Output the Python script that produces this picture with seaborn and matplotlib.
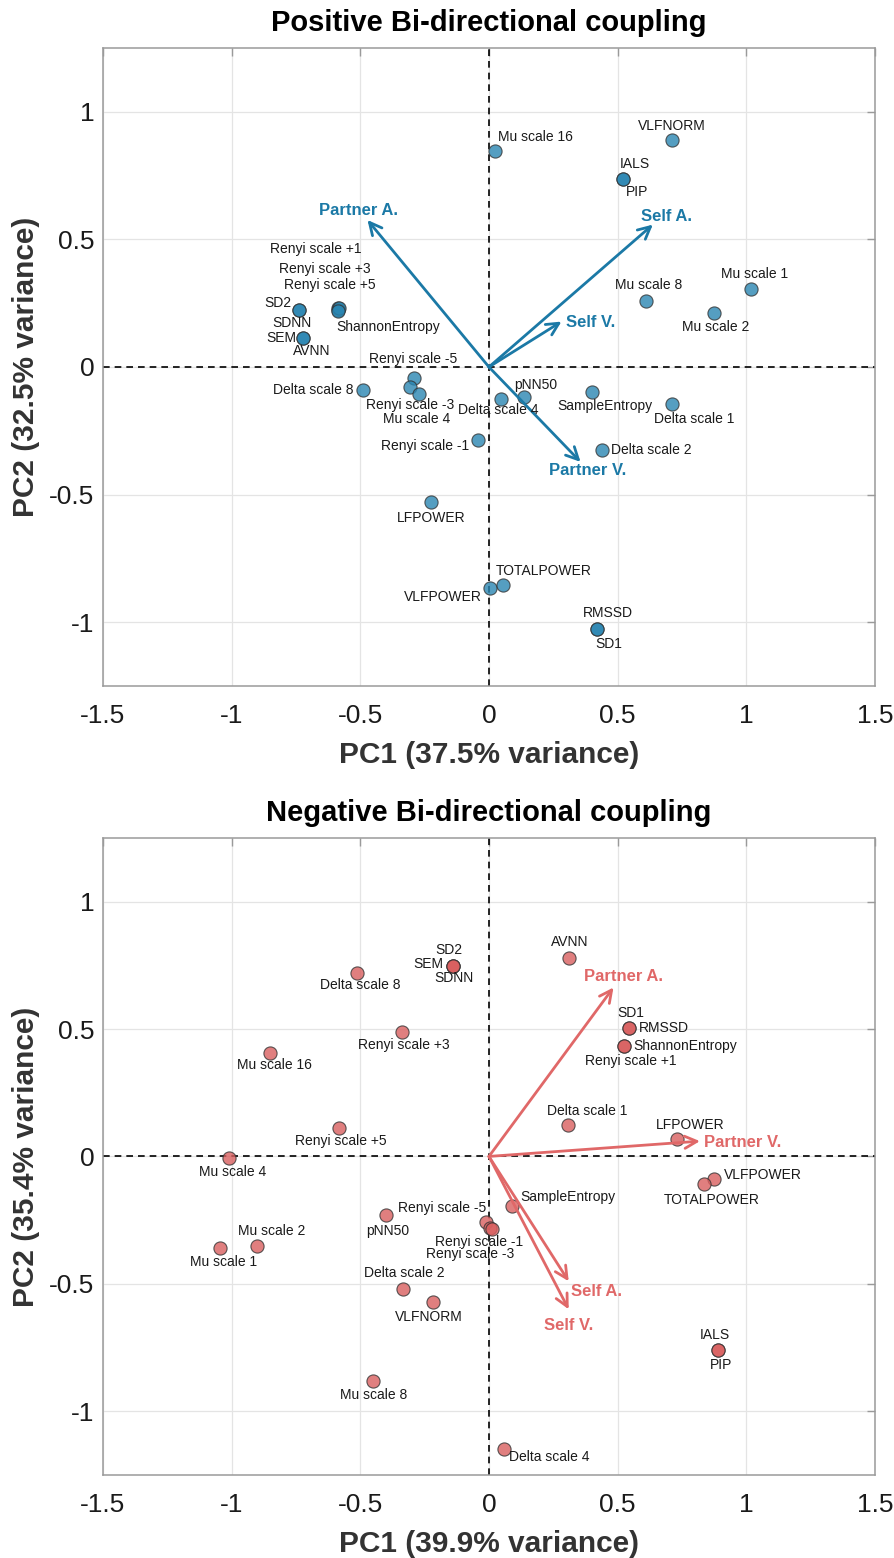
import matplotlib
matplotlib.use("Agg")
import matplotlib.pyplot as plt
from matplotlib.ticker import FuncFormatter
import pandas as pd
import seaborn as sns

# ---- positive bi-directional coupling (top) ----
pos_names = ["Mu scale 16", "VLFNORM", "IALS", "PIP", "Mu scale 8", "Mu scale 1", "Mu scale 2",
             "SD2", "SDNN", "Renyi scale +1", "Renyi scale +3", "Renyi scale +5", "ShannonEntropy",
             "SEM", "AVNN", "Renyi scale -5", "Renyi scale -3", "Mu scale 4", "Delta scale 8",
             "Renyi scale -1", "Delta scale 4", "pNN50", "SampleEntropy", "Delta scale 1",
             "Delta scale 2", "LFPOWER", "VLFPOWER", "TOTALPOWER", "RMSSD", "SD1"]
pos_pc1 = [0.025, 0.71, 0.52, 0.52, 0.61, 1.02, 0.875, -0.74, -0.74, -0.585, -0.585, -0.582,
           -0.587, -0.722, -0.722, -0.291, -0.305, -0.27, -0.488, -0.042, 0.047, 0.135, 0.401,
           0.71, 0.438, -0.224, 0.006, 0.053, 0.418, 0.418]
pos_pc2 = [0.848, 0.89, 0.735, 0.735, 0.26, 0.305, 0.21, 0.222, 0.222, 0.23, 0.225, 0.233,
           0.22, 0.113, 0.113, -0.043, -0.078, -0.105, -0.089, -0.287, -0.125, -0.118, -0.098,
           -0.144, -0.324, -0.53, -0.865, -0.855, -1.026, -1.026]
pos_vec_names = ["Partner A.", "Self A.", "Self V.", "Partner V."]
pos_vec_x = [-0.472, 0.637, 0.282, 0.356]
pos_vec_y = [0.576, 0.558, 0.178, -0.372]

# ---- negative bi-directional coupling (bottom) ----
neg_names = ["AVNN", "SD2", "SEM", "SDNN", "Delta scale 8", "Renyi scale +3", "Mu scale 16",
             "SD1", "RMSSD", "ShannonEntropy", "Renyi scale +1", "Delta scale 1", "LFPOWER",
             "Renyi scale +5", "Mu scale 4", "pNN50", "Renyi scale -5", "Renyi scale -1",
             "Renyi scale -3", "SampleEntropy", "Mu scale 2", "Mu scale 1", "Delta scale 2",
             "VLFNORM", "Mu scale 8", "Delta scale 4", "VLFPOWER", "TOTALPOWER", "IALS", "PIP"]
neg_pc1 = [0.312, -0.139, -0.139, -0.139, -0.512, -0.337, -0.849, 0.543, 0.543, 0.523, 0.523,
           0.307, 0.73, -0.583, -1.011, -0.40, -0.011, 0.005, 0.012, 0.088, -0.90, -1.047,
           -0.334, -0.217, -0.45, 0.057, 0.875, 0.835, 0.89, 0.89]
neg_pc2 = [0.78, 0.748, 0.748, 0.748, 0.721, 0.49, 0.407, 0.504, 0.504, 0.434, 0.434, 0.122,
           0.07, 0.112, -0.005, -0.231, -0.256, -0.28, -0.286, -0.193, -0.353, -0.359, -0.521,
           -0.572, -0.88, -1.148, -0.09, -0.11, -0.76, -0.76]
neg_vec_names = ["Partner A.", "Partner V.", "Self A.", "Self V."]
neg_vec_x = [0.484, 0.82, 0.31, 0.31]
neg_vec_y = [0.663, 0.06, -0.49, -0.60]

# label placement (offset points, alignment)
pos_lab = [(2, 10, "left"), (0, 10, "center"), (9, 11, "center"), (10, -9, "center"),
           (2, 11.5, "center"), (2, 11, "center"), (1, -10, "center"), (-5, 5, "right"),
           (-5, -9, "center"), (-16.5, 42.5, "center"), (-9.5, 29.5, "center"), (-7, 16, "center"),
           (-1, -11.5, "left"), (-5, 0, "right"), (6, -9.5, "center"), (-1, 13.5, "center"),
           (0, -13, "center"), (-2, -18, "center"), (-7, 0, "right"), (-6.5, -4, "right"),
           (-2, -8, "center"), (9, 9, "center"), (9, -10, "center"), (16, -11, "center"),
           (7, 0, "left"), (0, -11.5, "center"), (-6, -7, "right"), (-5, 10, "left"),
           (8, 11.5, "center"), (9, -11, "center")]
neg_lab = [(0, 11.5, "center"), (-3, 11.5, "center"), (-7, 1, "right"), (0.5, -9, "center"),
           (2, -8.5, "center"), (1, -10, "center"), (3, -9, "center"), (1.5, 11, "center"),
           (7, 0, "left"), (7, 0, "left"), (5, -11, "center"), (14, 10, "center"),
           (10, 10, "center"), (1.5, -9.5, "center"), (3, -10, "center"), (1, -11.5, "center"),
           (0, 10, "right"), (-8, -10, "center"), (-16, -17.5, "center"), (6.5, 6, "left"),
           (10.5, 11, "center"), (3, -10, "center"), (1, 12, "center"), (-3, -11, "center"),
           (0, -10, "center"), (4, -6, "left"), (7, 3, "left"), (6, -11, "center"),
           (-2, 11, "center"), (2, -11, "center")]
pos_vec_lab = [(-6.5, 7, "center"), (9.5, 6, "center"), (3.5, -1, "left"), (5, -6.5, "center")]
neg_vec_lab = [(7, 8, "center"), (3, -1, "left"), (2, -7, "left"), (0, -12, "center")]

sns.set_theme(style="white")
plt.rcParams["font.family"] = ["Liberation Sans", "DejaVu Sans"]
plt.rcParams["axes.unicode_minus"] = False


def draw_panel(ax, names, pc1, pc2, labs, vnames, vx, vy, vlabs, face, acol, title, xlab, ylab):
    df = pd.DataFrame({"feature": names, "pc1": pc1, "pc2": pc2})
    ax.axhline(0, color="black", lw=1.2, ls=(0, (4, 3)), zorder=2)
    ax.axvline(0, color="black", lw=1.2, ls=(0, (4, 3)), zorder=2)
    sns.scatterplot(data=df, x="pc1", y="pc2", ax=ax, color=face, s=90, alpha=0.8,
                    edgecolor="#333333", linewidth=0.8, zorder=4, legend=False)
    for name, x, y, (dx, dy, ha) in zip(names, pc1, pc2, labs):
        ax.annotate(name, (x, y), xytext=(dx, dy), textcoords="offset points",
                    ha=ha, va="center", fontsize=10, color="#1a1a1a", zorder=6)
    for name, x, y, (dx, dy, ha) in zip(vnames, vx, vy, vlabs):
        ax.annotate("", xy=(x, y), xytext=(0, 0),
                    arrowprops=dict(arrowstyle="->", color=acol, lw=2,
                                    mutation_scale=22, shrinkA=0, shrinkB=0), zorder=5)
        ax.annotate(name, (x, y), xytext=(dx, dy), textcoords="offset points", ha=ha,
                    va="center", fontsize=12, fontweight="bold", color=acol, zorder=6)
    ax.set_xlim(-1.5, 1.5)
    ax.set_ylim(-1.25, 1.25)
    ax.set_xticks([-1.5, -1, -0.5, 0, 0.5, 1, 1.5])
    ax.set_yticks([-1, -0.5, 0, 0.5, 1])
    fmt = FuncFormatter(lambda v, p: f"{v:g}")
    ax.xaxis.set_major_formatter(fmt)
    ax.yaxis.set_major_formatter(fmt)
    ax.grid(True, color="#e4e4e4", lw=0.9, zorder=0)
    ax.set_axisbelow(True)
    ax.tick_params(axis="both", direction="in", length=6, width=1, color="#9a9a9a",
                   top=True, right=True, labelsize=19, labelcolor="#1a1a1a")
    ax.tick_params(axis="x", pad=13)
    ax.tick_params(axis="y", pad=6)
    for sp in ax.spines.values():
        sp.set_color("#9a9a9a")
        sp.set_linewidth(1.1)
    ax.set_title(title, fontsize=21, fontweight="bold", pad=12, color="black")
    ax.set_xlabel(xlab, fontsize=21.5, fontweight="bold", labelpad=9, color="#333333")
    ax.set_ylabel(ylab, fontsize=21.5, fontweight="bold", labelpad=7, color="#333333")


fig = plt.figure(figsize=(8.95, 15.58), dpi=100)
ax1 = fig.add_axes([0.115, 0.5597, 0.8626, 0.4095])
ax2 = fig.add_axes([0.115, 0.0533, 0.8626, 0.4089])

draw_panel(ax1, pos_names, pos_pc1, pos_pc2, pos_lab, pos_vec_names, pos_vec_x, pos_vec_y,
           pos_vec_lab, "#2a86b2", "#1b79a6", "Positive Bi-directional coupling",
           "PC1 (37.5% variance)", "PC2 (32.5% variance)")
draw_panel(ax2, neg_names, neg_pc1, neg_pc2, neg_lab, neg_vec_names, neg_vec_x, neg_vec_y,
           neg_vec_lab, "#d95f5f", "#e06868", "Negative Bi-directional coupling",
           "PC1 (39.9% variance)", "PC2 (35.4% variance)")

fig.savefig("out.png", dpi=100)
